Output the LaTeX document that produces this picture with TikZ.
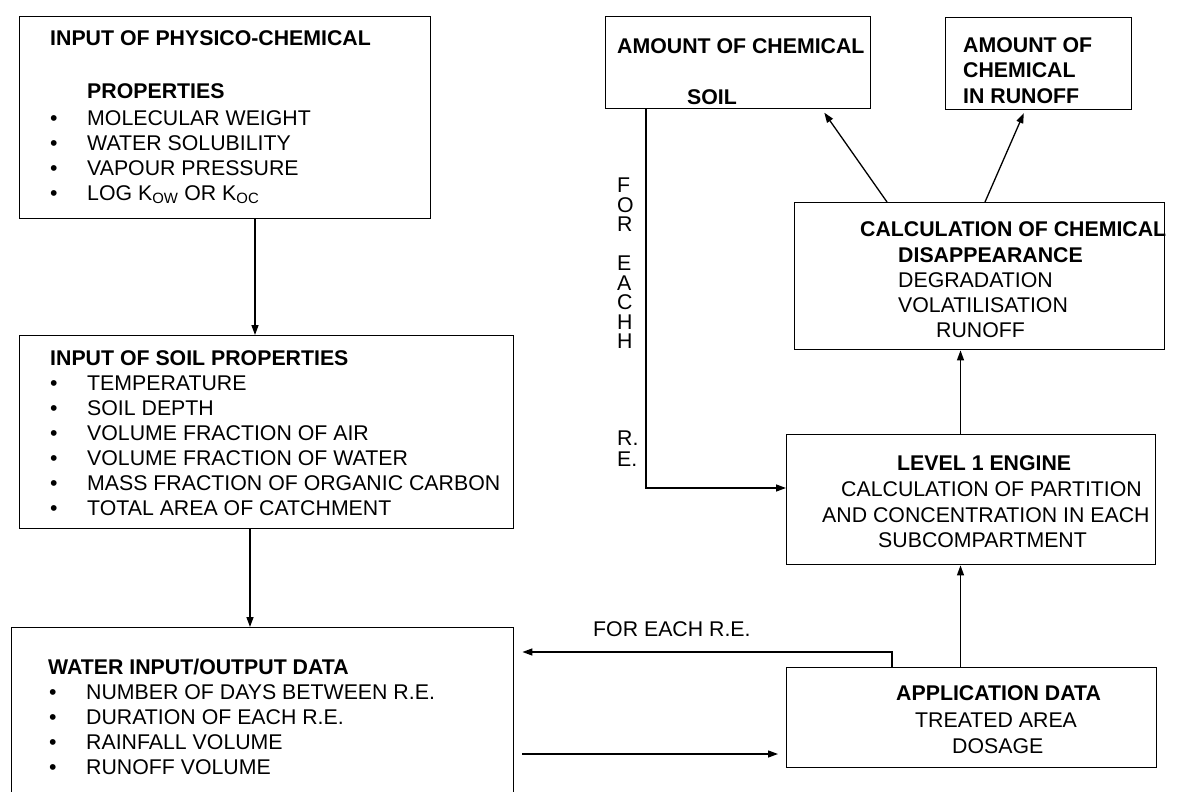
\documentclass[tikz,border=0pt]{standalone}
\usepackage{fontspec}
\setmainfont{Liberation Sans}
\usetikzlibrary{arrows.meta}
\newcommand\dgfont{\fontsize{21.3pt}{25pt}\selectfont}
\begin{document}
\begin{tikzpicture}[x=1pt,y=-1pt,
  panel/.style={draw, line width=1.4pt, inner sep=0pt, anchor=north west},
  txt/.style={anchor=base west, inner sep=0pt, font=\dgfont},
  btxt/.style={anchor=base west, inner sep=0pt, font=\dgfont\bfseries},
  arr/.style={line width=1.3pt, -{Triangle[length=10pt,width=7pt]}},
  wire/.style={line width=1.3pt}]
\clip (0,0) rectangle (1202,792);
\fill[white] (0,0) rectangle (1202,792);

% ---------- boxes ----------
\node[panel, minimum width=411pt, minimum height=202pt] (phys) at (19,16) {};
\node[panel, minimum width=494pt, minimum height=193pt] (soilp) at (19,335) {};
\node[panel, minimum width=502pt, minimum height=200pt] (water) at (11,627) {};
\node[panel, minimum width=265pt, minimum height=92pt] (amtsoil) at (605,16) {};
\node[panel, minimum width=186pt, minimum height=92pt] (amtrun) at (945,17) {};
\node[panel, minimum width=370pt, minimum height=147pt] (calc) at (794,202) {};
\node[panel, minimum width=369pt, minimum height=130pt] (eng) at (786,434) {};
\node[panel, minimum width=370pt, minimum height=100pt] (app) at (786,667) {};

% ---------- physico-chemical properties ----------
\node[btxt] (p0) at (50,45.6) {INPUT OF PHYSICO-CHEMICAL};
\node[btxt] (p1) at (87,98.6) {PROPERTIES};
\node[txt] (pb1) at (50,125.6) {\textbullet};
\node[txt] (p2) at (87,125.6) {MOLECULAR WEIGHT};
\node[txt] (pb2) at (50,150.6) {\textbullet};
\node[txt] (p3) at (87,150.6) {WATER SOLUBILITY};
\node[txt] (pb3) at (50,175.6) {\textbullet};
\node[txt] (p4) at (87,175.6) {VAPOUR PRESSURE};
\node[txt] (pb4) at (50,200.6) {\textbullet};
\node[txt] (p5) at (87,200.6) {LOG K\textsubscript{OW} OR K\textsubscript{OC}};

% ---------- soil properties ----------
\node[btxt] (s0) at (50,365.6) {INPUT OF SOIL PROPERTIES};
\node[txt] (sb1) at (50,390.6) {\textbullet};
\node[txt] (s1) at (87,390.6) {TEMPERATURE};
\node[txt] (sb2) at (50,415.6) {\textbullet};
\node[txt] (s2) at (87,415.6) {SOIL DEPTH};
\node[txt] (sb3) at (50,440.6) {\textbullet};
\node[txt] (s3) at (87,440.6) {VOLUME FRACTION OF AIR};
\node[txt] (sb4) at (50,465.6) {\textbullet};
\node[txt] (s4) at (87,465.6) {VOLUME FRACTION OF WATER};
\node[txt] (sb5) at (50,490.6) {\textbullet};
\node[txt] (s5) at (87,490.6) {MASS FRACTION OF ORGANIC CARBON};
\node[txt] (sb6) at (50,515.6) {\textbullet};
\node[txt] (s6) at (87,515.6) {TOTAL AREA OF CATCHMENT};

% ---------- water input/output ----------
\node[btxt] (w0) at (48,674.6) {WATER INPUT/OUTPUT DATA};
\node[txt] (wb1) at (49,699.6) {\textbullet};
\node[txt] (w1) at (86,699.6) {NUMBER OF DAYS BETWEEN R.E.};
\node[txt] (wb2) at (49,724.6) {\textbullet};
\node[txt] (w2) at (86,724.6) {DURATION OF EACH R.E.};
\node[txt] (wb3) at (49,749.6) {\textbullet};
\node[txt] (w3) at (86,749.6) {RAINFALL VOLUME};
\node[txt] (wb4) at (49,774.6) {\textbullet};
\node[txt] (w4) at (86,774.6) {RUNOFF VOLUME};

% ---------- outputs ----------
\node[btxt] (a0) at (617,53.6) {AMOUNT OF CHEMICAL};
\node[btxt] (a1) at (687,104.6) {SOIL};
\node[btxt] (r0) at (963,52.6) {AMOUNT OF};
\node[btxt] (r1) at (963,77.6) {CHEMICAL};
\node[btxt] (r2) at (963,103.6) {IN RUNOFF};

% ---------- disappearance ----------
\node[btxt] (c0) at (860,236.6) {CALCULATION OF CHEMICAL};
\node[btxt] (c1) at (898,262.6) {DISAPPEARANCE};
\node[txt] (c2) at (898,287.6) {DEGRADATION};
\node[txt] (c3) at (898,312.6) {VOLATILISATION};
\node[txt] (c4) at (936,337.6) {RUNOFF};

% ---------- level 1 engine ----------
\node[btxt] (e0) at (897,470.6) {LEVEL 1 ENGINE};
\node[txt] (e1) at (841,496.6) {CALCULATION OF PARTITION};
\node[txt] (e2) at (822,522.6) {AND CONCENTRATION IN EACH};
\node[txt] (e3) at (878,547.6) {SUBCOMPARTMENT};

% ---------- application data ----------
\node[btxt] (d0) at (896,700.6) {APPLICATION DATA};
\node[txt] (d1) at (915,727.6) {TREATED AREA};
\node[txt] (d2) at (952,753.6) {DOSAGE};

% ---------- loop labels ----------
\node[txt] (fe) at (593,636.6) {FOR EACH R.E.};
\node[txt] (v1) at (617,192.6) {F};
\node[txt] (v2) at (617,212.1) {O};
\node[txt] (v3) at (617,231.6) {R};
\node[txt] (v4) at (617,270.6) {E};
\node[txt] (v5) at (617,290.1) {A};
\node[txt] (v6) at (617,309.6) {C};
\node[txt] (v7) at (617,329.1) {H};
\node[txt] (v8) at (617,348.6) {H};
\node[txt] (v9) at (617,445.6) {R.};
\node[txt] (v10) at (617,466.6) {E.};

% ---------- connector positions ----------
\coordinate (xa) at (255,0);
\coordinate (xb) at (250,0);
\coordinate (xs) at (646,0);
\coordinate (ys) at (0,488);
\coordinate (xc1) at (887,0);
\coordinate (xc2) at (822,0);
\coordinate (xr1) at (985,0);
\coordinate (xr2) at (1025,0);
\coordinate (xv) at (960.5,0);
\coordinate (xf) at (892,0);
\coordinate (yf) at (0,652);
\coordinate (yw) at (0,754);

% ---------- connectors ----------
\draw[arr] (phys.south -| xa) -- (soilp.north -| xa);
\draw[arr] (soilp.south -| xb) -- (water.north -| xb);
\draw[arr] (amtsoil.south -| xs) |- (eng.west |- ys);
\draw[arr, shorten >=4pt] (calc.north -| xc1) -- (amtsoil.south -| xc2);
\draw[arr, shorten >=3pt] (calc.north -| xr1) -- (amtrun.south -| xr2);
\draw[arr] (eng.north -| xv) -- (calc.south -| xv);
\draw[arr] (app.north -| xv) -- (eng.south -| xv);
\draw[arr, shorten >=8pt] (app.north -| xf) |- (water.east |- yf);
\draw[arr, shorten <=8pt, shorten >=8pt] (water.east |- yw) -- (app.west |- yw);
\end{tikzpicture}
\end{document}
